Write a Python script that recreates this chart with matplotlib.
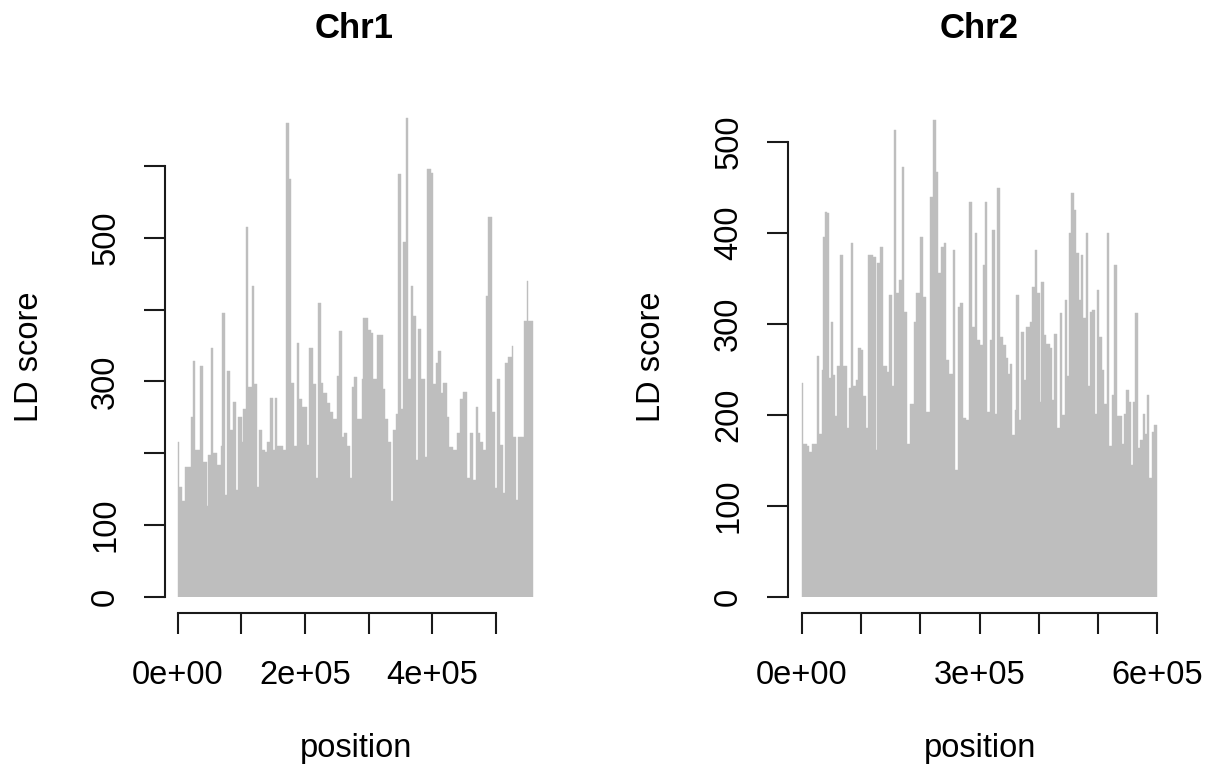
import numpy as np
import matplotlib
matplotlib.use("Agg")
import matplotlib.pyplot as plt

plt.rcParams['font.family'] = ['Liberation Sans', 'DejaVu Sans']

# ---------------- data (positions in kb, LD score) ----------------
chr1_start_kb = [0, 1.6, 5.8, 11.0, 20.0, 24.1, 26.8, 34.6, 39.9, 45.1, 47.8, 51.4, 55.6, 60.9,
                 67.2, 69.3, 74.0, 76.6, 81.9, 87.1, 91.3, 95.0, 100.3, 102.9, 107.1, 110.8,
                 116.0, 119.7, 123.9, 127.6, 131.8, 137.0, 139.6, 144.9, 149.1, 152.8, 156.4,
                 165.9, 170.1, 174.3, 178.0, 183.2, 186.9, 191.1, 194.8, 202.6, 206.8, 212.1,
                 216.8, 221.0, 224.7, 228.9, 234.1, 239.4, 244.6, 249.9, 254.1, 257.7, 261.9,
                 265.6, 270.9, 274.5, 277.7, 282.4, 289.2, 291.9, 299.7, 303.9, 307.6, 312.9,
                 322.3, 326.0, 331.2, 334.9, 338.1, 343.3, 347.0, 350.7, 354.9, 358.5, 362.7,
                 366.9, 370.6, 374.8, 378.5, 382.7, 389.0, 392.6, 397.9, 402.1, 406.3, 410.0,
                 413.6, 417.8, 423.1, 427.3, 433.6, 438.8, 444.1, 449.3, 454.6, 459.8, 465.1,
                 468.8, 471.9, 475.6, 480.8, 485.0, 488.7, 494.0, 499.2, 502.9, 507.1, 512.3,
                 515.5, 520.2, 525.5, 528.1, 531.8, 534.9, 539.6, 544.9, 549.1, 551.7]
chr1_ld = [215, 153, 133, 180, 250, 328, 205, 321, 188, 126, 198, 347, 200, 184,
           210, 396, 142, 314, 233, 271, 149, 251, 216, 261, 515, 293,
           433, 296, 153, 233, 205, 201, 216, 277, 205, 277, 210,
           205, 661, 582, 298, 210, 354, 275, 265, 212, 347, 296,
           166, 410, 298, 284, 270, 258, 247, 307, 370, 222, 228,
           210, 166, 292, 306, 247, 303, 389, 372, 368, 303, 365,
           289, 247, 215, 133, 233, 254, 589, 261, 494, 668, 303,
           433, 391, 191, 373, 303, 194, 596, 591, 296, 326, 342,
           284, 298, 251, 208, 205, 228, 275, 286, 166, 228, 163,
           265, 228, 215, 205, 419, 530, 258, 152, 303, 212, 145,
           326, 334, 349, 223, 135, 222, 222, 384, 440, 384]
chr1_end_kb = 559.6

chr2_start_kb = [0, 2.2, 7.9, 12.4, 16.3, 24.7, 29.2, 33.2, 36.0, 38.8, 42.7, 46.1, 48.9, 51.7,
                 55.6, 59.6, 64.1, 68.6, 75.3, 79.3, 82.6, 86.6, 91.1, 95.0, 98.9, 103.4, 107.9,
                 111.9, 119.2, 124.8, 127.0, 131.5, 137.2, 142.8, 146.7, 151.2, 155.1, 159.6,
                 164.1, 168.1, 172.0, 177.6, 182.1, 188.9, 193.4, 199.0, 204.6, 210.2, 215.8,
                 221.5, 226.0, 229.9, 235.5, 239.5, 244.0, 248.4, 255.2, 259.1, 263.6, 267.6,
                 272.1, 277.7, 282.2, 287.8, 291.7, 295.7, 300.2, 305.8, 309.7, 312.5, 317.0,
                 321.5, 325.5, 329.9, 335.0, 339.5, 344.0, 347.9, 351.9, 355.3, 359.2, 362.0,
                 366.5, 370.4, 374.4, 378.9, 384.5, 389.0, 392.9, 397.4, 401.3, 404.2, 408.1,
                 412.6, 418.2, 422.1, 425.5, 430.6, 435.1, 439.0, 443.5, 447.4, 450.8, 454.7,
                 458.7, 463.2, 467.7, 470.5, 474.4, 478.9, 482.8, 486.8, 490.2, 494.1, 498.0,
                 502.5, 506.5, 510.9, 514.9, 519.4, 523.9, 527.8, 531.7, 536.2, 540.7, 544.7,
                 547.5, 552.0, 555.9, 559.8, 563.2, 567.2, 571.1, 575.6, 580.1, 582.9, 586.8,
                 591.3, 595.3]
chr2_ld = [235, 168, 165, 159, 168, 264, 179, 249, 395, 423, 421, 240, 302, 243,
           198, 253, 375, 253, 185, 229, 388, 231, 238, 273, 271, 220, 185,
           375, 373, 161, 366, 384, 253, 247, 331, 231, 513, 333,
           348, 472, 313, 168, 212, 302, 333, 395, 329, 203, 439,
           524, 467, 355, 384, 388, 260, 245, 381, 139, 318, 322,
           196, 194, 434, 296, 399, 282, 276, 364, 434, 203, 282,
           403, 201, 449, 285, 276, 262, 245, 256, 178, 205, 331,
           194, 291, 238, 296, 302, 340, 381, 333, 214, 346, 287,
           278, 273, 216, 289, 185, 311, 199, 326, 242, 399, 443,
           425, 377, 326, 375, 306, 399, 231, 313, 315, 201, 337,
           285, 249, 212, 399, 165, 221, 364, 198, 198, 168, 201,
           227, 214, 145, 214, 311, 163, 172, 201, 179, 221, 130,
           181, 188]
chr2_end_kb = 599.2

chr1_yticks = [0, 100, 200, 300, 400, 500, 600]
chr1_ylabels = ['0', '100', '', '300', '', '500', '']
chr1_xticks = [0, 1e5, 2e5, 3e5, 4e5, 5e5]
chr1_xlabels = ['0e+00', '', '2e+05', '', '4e+05', '']

chr2_yticks = [0, 100, 200, 300, 400, 500]
chr2_ylabels = ['0', '100', '200', '300', '400', '500']
chr2_xticks = [0, 1e5, 2e5, 3e5, 4e5, 5e5, 6e5]
chr2_xlabels = ['0e+00', '', '', '3e+05', '', '', '6e+05']

# ---------------- figure ----------------
W, H = 1206, 768
fig = plt.figure(figsize=(W / 100, H / 100), dpi=100)
BAR = '#BEBEBE'
FS = 23.5


def add_px(l, r, top, bottom):
    return fig.add_axes([l / W, 1 - bottom / H, (r - l) / W, (bottom - top) / H])


def panel(ax, starts_kb, vals, end_kb, xlim, ylim, yticks, ylabels, xticks, xlabels):
    edges = np.array(list(starts_kb) + [end_kb]) * 1000.0
    ax.bar(edges[:-1], vals, width=np.diff(edges), align='edge',
           color=BAR, edgecolor=BAR, linewidth=0.3)
    ax.set_xlim(*xlim)
    ax.set_ylim(*ylim)
    for s in ('top', 'right'):
        ax.spines[s].set_visible(False)
    ax.spines['left'].set_bounds(yticks[0], yticks[-1])
    ax.spines['bottom'].set_bounds(xticks[0], xticks[-1])
    ax.spines['bottom'].set_position(('outward', 16.5 * 0.72))
    for s in ('left', 'bottom'):
        ax.spines[s].set_linewidth(1.5)
        ax.spines[s].set_color('#1a1a1a')
    ax.set_yticks(yticks)
    ax.set_yticklabels(ylabels, rotation=90, va='center')
    ax.set_xticks(xticks)
    ax.set_xticklabels(xlabels)
    ax.tick_params(axis='both', direction='out', length=15, width=1.5,
                   color='#1a1a1a', labelsize=FS)
    ax.tick_params(axis='y', pad=16.5)
    ax.tick_params(axis='x', pad=19)
    ax.patch.set_visible(False)


ax1 = add_px(165, 540, 110, 596.5)
panel(ax1, chr1_start_kb, chr1_ld, chr1_end_kb,
      ((165 - 178) / 63.5 * 1e5, (540 - 178) / 63.5 * 1e5),
      (0, (596.5 - 110) / 0.7167),
      chr1_yticks, chr1_ylabels, chr1_xticks, chr1_xlabels)

ax2 = add_px(788, 1172, 110, 596.5)
panel(ax2, chr2_start_kb, chr2_ld, chr2_end_kb,
      ((788 - 802) / 59.2 * 1e5, (1172 - 802) / 59.2 * 1e5),
      (0, (596.5 - 110) / 0.91),
      chr2_yticks, chr2_ylabels, chr2_xticks, chr2_xlabels)

# titles and axis labels
fig.text(354 / W, 1 - 29 / H, 'Chr1', ha='center', va='center', fontsize=25, fontweight='bold')
fig.text(979 / W, 1 - 29 / H, 'Chr2', ha='center', va='center', fontsize=25, fontweight='bold')
fig.text(356 / W, 1 - 748 / H, 'position', ha='center', va='center', fontsize=FS)
fig.text(980 / W, 1 - 748 / H, 'position', ha='center', va='center', fontsize=FS)
fig.text(30 / W, 1 - 357 / H, 'LD score', ha='center', va='center', rotation=90, fontsize=FS)
fig.text(652 / W, 1 - 357 / H, 'LD score', ha='center', va='center', rotation=90, fontsize=FS)

fig.savefig('out.png', dpi=100)
